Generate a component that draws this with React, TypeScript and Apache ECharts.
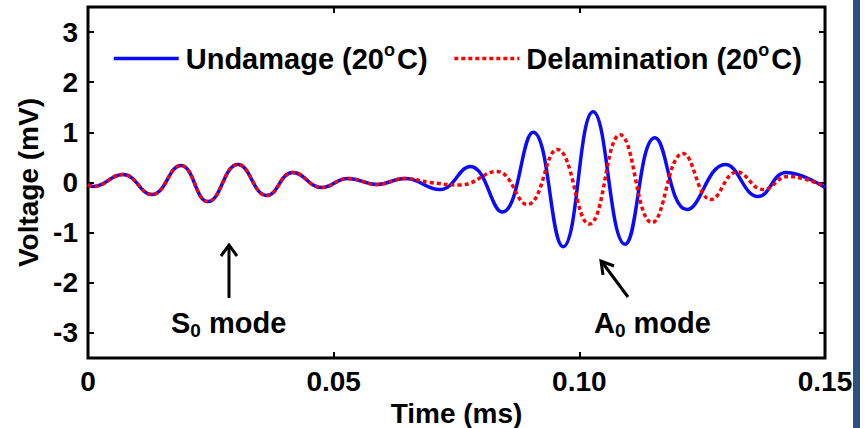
import React, { useEffect, useRef } from "react";
import * as echarts from "echarts";

// S0 part (identical for both signals)
const timeS0 = [0, 0.001, 0.0071, 0.013, 0.0189, 0.0244, 0.0305, 0.0364, 0.0417, 0.0476, 0.0529, 0.0588, 0.0645];
const voltS0 = [-0.04, -0.08, 0.16, -0.24, 0.34, -0.38, 0.36, -0.26, 0.2, -0.1, 0.08, -0.04, 0.08];
// A0 part, undamaged
const timeUndamageA0 = [0.0716, 0.0778, 0.0843, 0.0906, 0.0967, 0.1028, 0.1093, 0.1154, 0.1219, 0.1297, 0.1364, 0.1421, 0.15];
const voltUndamageA0 = [-0.14, 0.32, -0.59, 1.0, -1.28, 1.41, -1.23, 0.89, -0.54, 0.36, -0.28, 0.2, -0.1];
// A0 part, delamination
const timeDelamA0 = [0.0696, 0.0757, 0.0832, 0.0894, 0.0955, 0.102, 0.1083, 0.1148, 0.1211, 0.1268, 0.1321, 0.1374, 0.1425, 0.15];
const voltDelamA0 = [0.0, -0.05, 0.22, -0.44, 0.66, -0.83, 0.95, -0.8, 0.58, -0.34, 0.21, -0.14, 0.12, -0.08];

const seriesNames = ["Undamage (20°C)", "Delamination (20°C)"];
const yTicks = [-3, -2, -1, 0, 1, 2, 3];
const xTicks = [0, 0.05, 0.1, 0.15];

const FONT = "'Liberation Sans', Arial, Helvetica, sans-serif";

function pairs(t: number[], v: number[]) {
  return t.map((x, i) => [x, v[i]]);
}

export default function App() {
  const ref = useRef<HTMLDivElement>(null);
  useEffect(() => {
    if (!ref.current) return;
    const chart = echarts.init(ref.current, null, { renderer: "svg" });
    const undamage = pairs(timeS0.concat(timeUndamageA0), voltS0.concat(voltUndamageA0));
    const delam = pairs(timeS0.concat(timeDelamA0), voltS0.concat(voltDelamA0));
    const axisTickStyle = { show: true, inside: true, length: 6, lineStyle: { color: "#000", width: 2 } };
    const labelStyle = { color: "#000", fontSize: 28, fontWeight: "bold" as const, fontFamily: FONT };
    const noLine = { show: false, onZero: false };
    const annRich = {
      n: { fontSize: 29, fontWeight: "bold", fontFamily: FONT, fill: "#000", lineHeight: 34 },
      s: { fontSize: 19, fontWeight: "bold", fontFamily: FONT, fill: "#000", verticalAlign: "bottom" },
    };
    chart.setOption({
      animation: false,
      backgroundColor: "#fff",
      grid: {
        left: 88,
        right: 41,
        top: 7,
        bottom: 70,
        show: true,
        borderColor: "#000",
        borderWidth: 3,
        outerBoundsMode: "none",
        containLabel: false,
      },
      legend: {
        left: 112,
        top: 41,
        padding: 0,
        itemWidth: 65,
        itemHeight: 14,
        itemGap: 25,
        data: seriesNames,
        itemStyle: { opacity: 0 },
        lineStyle: { width: 3.5 },
        formatter: (name: string) => {
          const [a, b] = name.split("°");
          return `{n|${a}}{s|o}{n|${b}}`;
        },
        textStyle: {
          color: "#000",
          fontSize: 29,
          fontWeight: "bold",
          fontFamily: FONT,
          rich: {
            n: { fontSize: 29, fontWeight: "bold", fontFamily: FONT, color: "#000", lineHeight: 34, padding: [0, 0, 0, 2] },
            s: { fontSize: 18, fontWeight: "bold", fontFamily: FONT, color: "#000", padding: [0, 0, 17, 0] },
          },
        },
      },
      xAxis: [
        {
          type: "value",
          min: 0,
          max: 0.15,
          interval: 0.05,
          name: "Time (ms)",
          nameLocation: "middle",
          nameGap: 38,
          nameTextStyle: labelStyle,
          axisLine: noLine,
          axisTick: axisTickStyle,
          splitLine: { show: false },
          axisLabel: {
            ...labelStyle,
            margin: 9,
            customValues: xTicks,
            formatter: (v: number) => (v === 0 ? "0" : v.toFixed(2)),
          },
        },
        {
          type: "value",
          position: "top",
          min: 0,
          max: 0.15,
          interval: 0.05,
          axisLine: noLine,
          axisTick: axisTickStyle,
          axisLabel: { show: false },
          splitLine: { show: false },
        },
      ],
      yAxis: [
        {
          type: "value",
          min: -3.5,
          max: 3.5,
          name: "Voltage (mV)",
          nameLocation: "middle",
          nameGap: 46,
          nameTextStyle: labelStyle,
          axisLine: noLine,
          axisTick: { ...axisTickStyle, customValues: yTicks },
          splitLine: { show: false },
          axisLabel: { ...labelStyle, margin: 10, customValues: yTicks },
        },
        {
          type: "value",
          position: "right",
          min: -3.5,
          max: 3.5,
          axisLine: noLine,
          axisTick: { ...axisTickStyle, customValues: yTicks },
          axisLabel: { show: false },
          splitLine: { show: false },
        },
      ],
      series: [
        {
          name: seriesNames[0],
          type: "line",
          data: undamage,
          smooth: 0.45,
          symbol: "none",
          lineStyle: { color: "#0a0aff", width: 3.5 },
          itemStyle: { color: "#0a0aff" },
        },
        {
          name: seriesNames[1],
          type: "line",
          data: delam,
          smooth: 0.45,
          symbol: "none",
          lineStyle: { color: "#ff0000", width: 3.5, type: [4, 3] },
          itemStyle: { color: "#ff0000" },
        },
      ],
      graphic: [
        {
          type: "text",
          x: 171,
          y: 323,
          style: { text: "{n|S}{s|0}{n| mode}", verticalAlign: "middle", rich: annRich },
        },
        {
          type: "text",
          x: 594,
          y: 323,
          style: { text: "{n|A}{s|0}{n| mode}", verticalAlign: "middle", rich: annRich },
        },
        { type: "line", shape: { x1: 229, y1: 298, x2: 229, y2: 246 }, style: { stroke: "#000", lineWidth: 3 } },
        {
          type: "polyline",
          shape: { points: [[221, 256], [229, 245], [237, 256]] },
          style: { stroke: "#000", lineWidth: 3, fill: null },
        },
        { type: "line", shape: { x1: 628, y1: 297, x2: 602, y2: 262 }, style: { stroke: "#000", lineWidth: 3 } },
        {
          type: "polyline",
          shape: { points: [[603, 275], [601, 261], [614, 266]] },
          style: { stroke: "#000", lineWidth: 3, fill: null },
        },
        { type: "rect", shape: { x: 853, y: 0, width: 7, height: 428 }, style: { fill: "#2c5080" } },
      ],
    });
    return () => chart.dispose();
  }, []);
  return <div ref={ref} style={{ position: "fixed", left: 0, top: 0, width: 866, height: 428 }} />;
}
